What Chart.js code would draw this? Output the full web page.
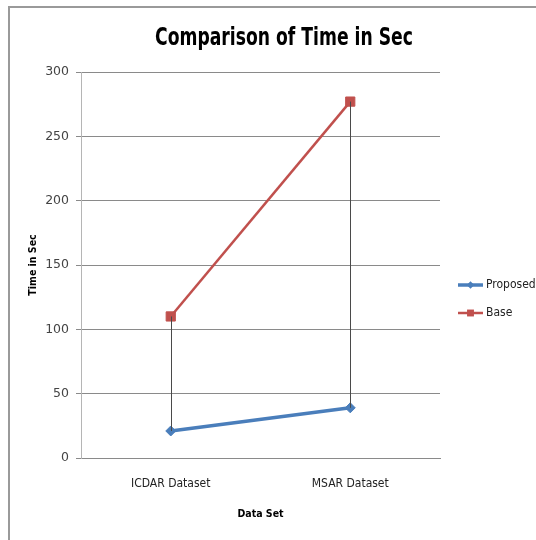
<!DOCTYPE html>
<html>
<head>
<meta charset="utf-8">
<script src="https://cdn.jsdelivr.net/npm/chart.js@4.4.1/dist/chart.umd.min.js"></script>
<style>
  html, body { margin: 0; padding: 0; background: #ffffff; }
  #wrap { position: relative; width: 536px; height: 540px; }
</style>
</head>
<body>
<div id="wrap"><canvas id="chart" width="536" height="540"></canvas></div>
<script>
// Processing time (seconds) for each data set
const categories = ['ICDAR Dataset', 'MSAR Dataset'];
const proposedTimes = [21, 39];
const baseTimes = [110, 277];
const yTicks = [0, 50, 100, 150, 200, 250, 300];
const chartTitle = 'Comparison of Time in Sec';

const NARROW = '"Liberation Sans Narrow", "Arial Narrow", "DejaVu Sans Condensed", sans-serif';

// Outer frame of the chart object (top and left edges)
const framePlugin = {
  id: 'frame',
  beforeDraw(chart) {
    const ctx = chart.ctx;
    ctx.save();
    ctx.strokeStyle = '#9a9a9a';
    ctx.lineWidth = 2;
    ctx.beginPath();
    ctx.moveTo(9, chart.height);
    ctx.lineTo(9, 7);
    ctx.lineTo(chart.width, 7);
    ctx.stroke();
    ctx.restore();
  }
};

// Chart title, centred over the whole chart object and set in a tight bold face
const titlePlugin = {
  id: 'wideTitle',
  afterDraw(chart) {
    const ctx = chart.ctx;
    ctx.save();
    ctx.font = 'bold 24px ' + NARROW;
    ctx.fillStyle = '#000';
    ctx.textBaseline = 'middle';
    ctx.textAlign = 'center';
    const w = ctx.measureText(chartTitle).width;
    const sx = Math.min(1, 258 / w);
    ctx.translate(284, 39);
    ctx.scale(sx, 1);
    ctx.fillText(chartTitle, 0, 0);
    ctx.restore();
  }
};

// Vertical high-low lines joining the two series at each category
const highLowPlugin = {
  id: 'highLow',
  afterDatasetsDraw(chart) {
    const ctx = chart.ctx;
    const x = chart.scales.x, y = chart.scales.y;
    ctx.save();
    ctx.strokeStyle = '#4a4a4a';
    ctx.lineWidth = 1;
    categories.forEach((c, i) => {
      const vals = chart.data.datasets.map(d => d.data[i]);
      const px = Math.round(x.getPixelForValue(i)) + 0.5;
      ctx.beginPath();
      ctx.moveTo(px, y.getPixelForValue(Math.max(...vals)));
      ctx.lineTo(px, y.getPixelForValue(Math.min(...vals)));
      ctx.stroke();
    });
    ctx.restore();
  }
};

// Legend to the right of the plot
const sideLegendPlugin = {
  id: 'sideLegend',
  afterDraw(chart) {
    const ctx = chart.ctx;
    const x0 = 458, x1 = 483, rows = [285, 313];
    const cx = (x0 + x1) / 2;
    ctx.save();
    chart.data.datasets.forEach((ds, i) => {
      const yy = rows[i];
      ctx.strokeStyle = ds.borderColor;
      ctx.lineWidth = ds.borderWidth;
      ctx.beginPath();
      ctx.moveTo(x0, yy);
      ctx.lineTo(x1, yy);
      ctx.stroke();
      ctx.fillStyle = ds.pointBackgroundColor;
      ctx.beginPath();
      const r = ds.pointRadius * 0.75;
      if (ds.pointStyle === 'rect') {
        const s = r * Math.SQRT1_2;
        ctx.rect(cx - s, yy - s, 2 * s, 2 * s);
      } else {
        ctx.moveTo(cx, yy - r); ctx.lineTo(cx + r, yy);
        ctx.lineTo(cx, yy + r); ctx.lineTo(cx - r, yy);
        ctx.closePath();
      }
      ctx.fill();
      ctx.fillStyle = '#222';
      ctx.font = '12px ' + NARROW;
      ctx.textBaseline = 'middle';
      ctx.textAlign = 'left';
      ctx.fillText(ds.label, 486, yy);
    });
    ctx.restore();
  }
};

new Chart(document.getElementById('chart'), {
  type: 'line',
  data: {
    labels: categories,
    datasets: [
      {
        label: 'Proposed',
        data: proposedTimes,
        borderColor: '#4a7ebb',
        backgroundColor: '#4a7ebb',
        pointBackgroundColor: '#4a7ebb',
        pointBorderColor: '#4a7ebb',
        borderWidth: 3.5,
        pointStyle: 'rectRot',
        pointRadius: 5,
        pointBorderWidth: 1,
        tension: 0
      },
      {
        label: 'Base',
        data: baseTimes,
        borderColor: '#c0504d',
        backgroundColor: '#c0504d',
        pointBackgroundColor: '#c0504d',
        pointBorderColor: '#c0504d',
        borderWidth: 2.5,
        pointStyle: 'rect',
        pointRadius: 6.5,
        pointBorderWidth: 1,
        tension: 0
      }
    ]
  },
  options: {
    responsive: false,
    animation: false,
    events: [],
    layout: { padding: { left: 9, right: 96, top: 72, bottom: 0 } },
    plugins: {
      legend: { display: false },
      tooltip: { enabled: false },
      title: { display: false }
    },
    scales: {
      x: {
        offset: true,
        grid: { display: false, drawTicks: false },
        border: { display: true, color: '#8a8a8a', width: 1 },
        ticks: {
          color: '#222',
          font: { family: NARROW, size: 12 },
          padding: 19,
          maxRotation: 0
        },
        title: {
          display: true,
          text: 'Data Set',
          color: '#000',
          font: { family: NARROW, size: 10.5, weight: 'bold', lineHeight: 1.2 },
          padding: { top: 0, bottom: 19 }
        },
        afterFit(scale) { scale.height = 82; }
      },
      y: {
        min: 0,
        max: 300,
        afterBuildTicks(scale) { scale.ticks = yTicks.map(v => ({ value: v })); },
        grid: { color: '#8a8a8a', lineWidth: 1, tickLength: 5, drawTicks: true },
        border: { display: true, color: '#b5b5b5', width: 1 },
        ticks: {
          color: '#444',
          font: { family: '"DejaVu Sans", sans-serif', size: 12.5 },
          padding: 7
        },
        title: {
          display: true,
          text: 'Time in Sec',
          color: '#000',
          font: { family: NARROW, size: 10.5, weight: 'bold', lineHeight: 1.2 },
          padding: { top: 17.5, bottom: 0 }
        },
        afterFit(scale) { scale.width = 72; }
      }
    }
  },
  plugins: [framePlugin, titlePlugin, highLowPlugin, sideLegendPlugin]
});
</script>
</body>
</html>
